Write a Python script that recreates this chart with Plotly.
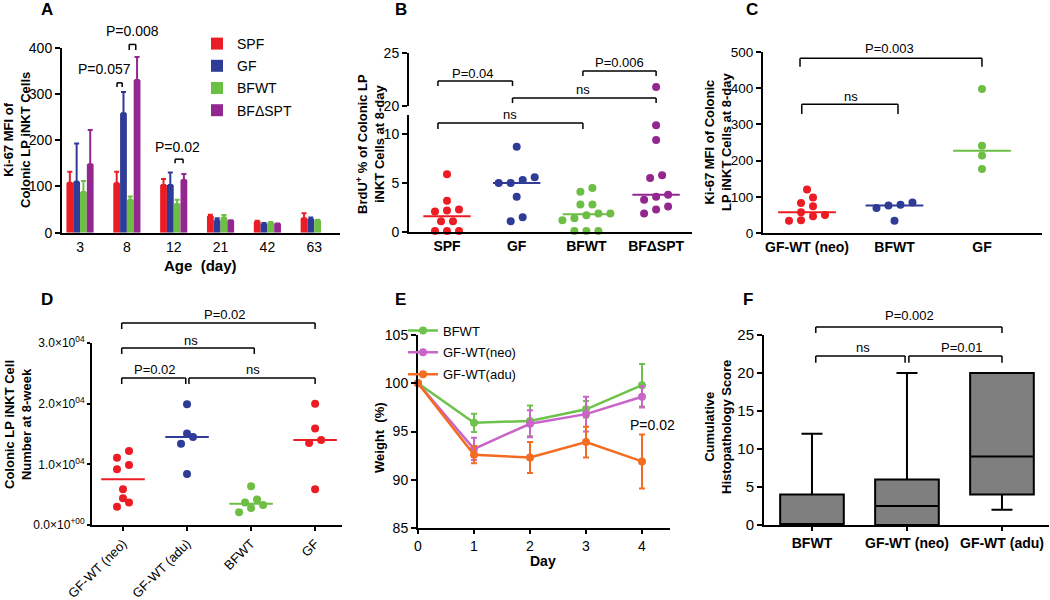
import numpy as np
import plotly.graph_objects as go

W, H = 1050, 600
FONT = "Arial, Liberation Sans, Helvetica, sans-serif"

RED = "#EC1C24"
BLUE = "#2E3B97"
GREEN = "#6DBE45"
PURPLE = "#93278F"
E_GREEN = "#6CC24A"
E_PINK = "#C964C8"
E_ORANGE = "#F36C21"
BOXGRAY = "#7F7F7F"

# ---------------- Panel A data ----------------
a_ages = ["3", "8", "12", "21", "42", "63"]
a_names = ["SPF", "GF", "BFWT", "BFΔSPT"]
a_spf = [108, 107, 103, 36, 24, 31]
a_spf_err = [24, 25, 13, 3, 2, 11]
a_gf = [110, 258, 103, 27, 20, 30]
a_gf_err = [83, 46, 27, 4, 1, 3]
a_bfwt = [88, 71, 62, 33, 22, 27]
a_bfwt_err = [24, 7, 9, 5, 1, 1]
a_bfdspt = [148, 330, 114, 27, 20, None]
a_bfdspt_err = [74, 50, 13, 0, 0, None]

# ---------------- Panel B data ----------------
b_groups = ["SPF", "GF", "BFWT", "BFΔSPT"]
b_spf = [5.9, 3.2, 2.1, 2.2, 2.3, 1.1, 1.1, 0.1, 0.1, 0.1]
b_gf = [8.7, 5.3, 5.6, 5.0, 5.0, 3.6, 1.1, 1.5]
b_bfwt = [4.5, 4.1, 2.8, 2.8, 1.9, 1.9, 1.7, 1.4, 1.2, 0.1, 0.1, 0.1]
b_bfdspt = [21.8, 10.9, 9.4, 5.8, 5.5, 3.8, 3.6, 3.3, 2.6, 2.3, 1.9]

# ---------------- Panel C data ----------------
c_groups = ["GF-WT (neo)", "BFWT", "GF"]
c_neo = [120, 83, 98, 74, 57, 50, 46, 35, 34]
c_bfwt = [84, 76, 69, 78, 34]
c_gf = [398, 241, 214, 177]

# ---------------- Panel D data ----------------
d_groups = ["GF-WT (neo)", "GF-WT (adu)", "BFWT", "GF"]
d_neo = [12200, 11100, 9200, 9900, 5900, 4400, 3700, 3000]
d_adu = [19900, 14500, 15100, 13400, 8400]
d_bfwt = [6400, 4200, 3700, 3300, 2800, 2100]
d_gf = [20000, 15900, 14000, 13500, 5900]
d_ticks = [0, 10000, 20000, 30000]
d_ticktext = ["0.0×10<sup>+00</sup>", "1.0×10<sup>04</sup>", "2.0×10<sup>04</sup>", "3.0×10<sup>04</sup>"]

# ---------------- Panel E data ----------------
e_days = [0, 1, 2, 3, 4]
e_bfwt = [100, 95.9, 96.1, 97.3, 99.8]
e_bfwt_err = [0, 0.95, 1.6, 0.85, 2.2]
e_neo = [100, 93.2, 95.8, 96.8, 98.6]
e_neo_err = [0, 1.15, 1.4, 1.8, 1.1]
e_adu = [100, 92.6, 92.3, 93.9, 91.9]
e_adu_err = [0, 0.9, 1.6, 1.6, 2.8]

# ---------------- Panel F data ----------------
f_groups = ["BFWT", "GF-WT (neo)", "GF-WT (adu)"]
f_min = [0, 0, 2]
f_q1 = [0, 0, 4]
f_med = [0, 2.5, 9]
f_q3 = [4, 6, 20]
f_max = [12, 20, 20]


def fx(p):
    return p / W


def fy(p):
    return 1 - p / H


# panel geometry (pixel boxes of the plotting areas) and ranges
G = {
    "A": dict(xa="x", ya="y", left=62, right=340, top=47.7, bottom=232.7, xr=[-0.385, 5.55], yr=[0, 400]),
    "B": dict(xa="x2", ya="y2", left=409, right=692, top=115, bottom=232, xr=[-0.545, 3.515], yr=[0, 11.94]),
    "B2": dict(xa="x2", ya="y3", left=409, right=692, top=53, bottom=106, xr=[-0.545, 3.515], yr=[20, 25]),
    "C": dict(xa="x3", ya="y4", left=763, right=1042, top=52, bottom=233, xr=[-0.503, 2.686], yr=[0, 500]),
    "D": dict(xa="x4", ya="y5", left=92, right=342, top=343, bottom=525, xr=[-0.484, 3.42], yr=[0, 30000]),
    "E": dict(xa="x5", ya="y6", left=418, right=670, top=335, bottom=528, xr=[0, 4.5], yr=[85, 105]),
    "F": dict(xa="x6", ya="y7", left=764, right=1049, top=335, bottom=525, xr=[-0.505, 2.495], yr=[0, 25]),
}


def axkey(a):
    return ("xaxis" if a[0] == "x" else "yaxis") + a[1:]


def ppu(g):
    return ((g["right"] - g["left"]) / (g["xr"][1] - g["xr"][0]),
            (g["bottom"] - g["top"]) / (g["yr"][1] - g["yr"][0]))


def swarm(vals, g, diam=8.0, spacing=12.0):
    px_x, px_y = ppu(g)
    vals = np.asarray(vals, dtype=float)
    order = np.argsort(vals, kind="stable")
    rows = []
    for i in order:
        if rows and (vals[i] - vals[rows[-1][0]]) * px_y < diam:
            rows[-1].append(i)
        else:
            rows.append([i])
    offs = np.zeros(len(vals))
    for r in rows:
        n = len(r)
        for k, i in enumerate(r):
            offs[i] = (k - (n - 1) / 2) * spacing / px_x
    return offs


fig = go.Figure()

# ---------------- Panel A: grouped bars ----------------
a_idx = list(range(len(a_ages)))
for name, vals, errs, col in zip(a_names, [a_spf, a_gf, a_bfwt, a_bfdspt],
                                 [a_spf_err, a_gf_err, a_bfwt_err, a_bfdspt_err],
                                 [RED, BLUE, GREEN, PURPLE]):
    fig.add_trace(go.Bar(
        x=a_idx, y=vals, name=name, marker=dict(color=col, line=dict(width=0)),
        error_y=dict(type="data", symmetric=False, array=errs,
                     arrayminus=[0] * len(errs), color=col, thickness=2, width=2.5),
        xaxis="x", yaxis="y", legend="legend", legendgroup=name,
    ))

# ---------------- scatter helper ----------------
def dot_panel(groups_vals, colors, g, g_upper=None, half=0.35):
    for i, (vals, col) in enumerate(zip(groups_vals, colors)):
        offs = swarm(vals, g)
        vals = np.asarray(vals, dtype=float)
        xs = i + offs
        if g_upper is not None:
            lo = vals < g_upper["yr"][0]
        else:
            lo = np.ones(len(vals), dtype=bool)
        fig.add_trace(go.Scatter(
            x=xs[lo], y=vals[lo], mode="markers", marker=dict(color=col, size=8),
            xaxis=g["xa"], yaxis=g["ya"], showlegend=False, cliponaxis=False))
        if g_upper is not None and (~lo).any():
            fig.add_trace(go.Scatter(
                x=xs[~lo], y=vals[~lo], mode="markers", marker=dict(color=col, size=8),
                xaxis=g_upper["xa"], yaxis=g_upper["ya"], showlegend=False, cliponaxis=False))
        med = float(np.median(vals))
        fig.add_trace(go.Scatter(
            x=[i - half, i + half], y=[med, med], mode="lines", line=dict(color=col, width=2),
            xaxis=g["xa"], yaxis=g["ya"], showlegend=False, hoverinfo="skip"))


dot_panel([b_spf, b_gf, b_bfwt, b_bfdspt], [RED, BLUE, GREEN, PURPLE], G["B"], G["B2"], half=0.34)
dot_panel([c_neo, c_bfwt, c_gf], [RED, BLUE, GREEN], G["C"], half=0.33)
dot_panel([d_neo, d_adu, d_bfwt, d_gf], [RED, BLUE, GREEN, RED], G["D"], half=0.34)

# ---------------- Panel E: lines ----------------
for name, vals, errs, col in [("BFWT", e_bfwt, e_bfwt_err, E_GREEN),
                              ("GF-WT(neo)", e_neo, e_neo_err, E_PINK),
                              ("GF-WT(adu)", e_adu, e_adu_err, E_ORANGE)]:
    fig.add_trace(go.Scatter(
        x=e_days, y=vals, name=name, mode="lines+markers",
        line=dict(color=col, width=2.5), marker=dict(color=col, size=8),
        error_y=dict(type="data", array=errs, color=col, thickness=2, width=3),
        xaxis="x5", yaxis="y6", legend="legend2", legendgroup=name, cliponaxis=False))

# ---------------- Panel F: box plot ----------------
fig.add_trace(go.Box(
    x=list(range(len(f_groups))), q1=f_q1, median=f_med, q3=f_q3,
    lowerfence=f_min, upperfence=f_max, width=0.67, whiskerwidth=0.33,
    fillcolor=BOXGRAY, line=dict(color="black", width=2), boxpoints=False,
    xaxis="x6", yaxis="y7", showlegend=False))

# ---------------- axes ----------------
base = dict(showgrid=False, zeroline=False, showline=True, linecolor="black", linewidth=2,
            tickcolor="black", tickwidth=2, ticklen=5, ticks="outside", automargin=False,
            tickfont=dict(family=FONT, size=14, color="black"))

layout_axes = {}
for key, g in G.items():
    if key != "B2":
        layout_axes[axkey(g["xa"])] = dict(base, domain=[fx(g["left"]), fx(g["right"])],
                                           range=g["xr"], anchor=g["ya"])
    layout_axes[axkey(g["ya"])] = dict(base, domain=[fy(g["bottom"]), fy(g["top"])],
                                       range=g["yr"], anchor=g["xa"])


def bold(lst):
    return ["<b>%s</b>" % s for s in lst]


# A
layout_axes["xaxis"].update(tickvals=a_idx, ticktext=a_ages, ticks="")
layout_axes["yaxis"].update(tickvals=[0, 100, 200, 300, 400])
# B
layout_axes["xaxis2"].update(tickvals=list(range(4)), ticktext=bold(b_groups), ticks="")
layout_axes["yaxis2"].update(tickvals=[0, 5, 10])
layout_axes["yaxis3"].update(tickvals=[20, 25])
# C
layout_axes["xaxis3"].update(tickvals=list(range(3)), ticktext=bold(c_groups), ticks="")
layout_axes["yaxis4"].update(tickvals=[0, 100, 200, 300, 400, 500], tickfont=dict(family=FONT, size=13.5, color="black"))
# D
layout_axes["xaxis4"].update(tickvals=list(range(4)), ticktext=d_groups, tickangle=-45, ticklen=4,
                             tickfont=dict(family=FONT, size=13, color="black"))
layout_axes["yaxis5"].update(tickvals=d_ticks, ticktext=d_ticktext, ticklen=3,
                             tickfont=dict(family=FONT, size=12, color="black"))
# E
layout_axes["xaxis5"].update(tickvals=e_days, ticklen=4)
layout_axes["yaxis6"].update(tickvals=[85, 90, 95, 100, 105])
# F
layout_axes["xaxis6"].update(tickvals=list(range(3)), ticktext=bold(f_groups), ticklen=4)
layout_axes["yaxis7"].update(tickvals=[0, 5, 10, 15, 20, 25], tickfont=dict(family=FONT, size=15, color="black"))

# ---------------- annotations & brackets ----------------
annotations = []
shapes = []


def yfrac(g, v):
    return (v - g["yr"][0]) / (g["yr"][1] - g["yr"][0])


def bracket(g, x0, x1, y, drop, lw=1.5):
    common = dict(type="line", xref=g["xa"], yref=g["ya"] + " domain",
                  line=dict(color="black", width=lw), layer="above")
    top = yfrac(g, y)
    bot = yfrac(g, y - drop)
    shapes.extend([
        dict(common, x0=x0, x1=x0, y0=bot, y1=top),
        dict(common, x0=x0, x1=x1, y0=top, y1=top),
        dict(common, x0=x1, x1=x1, y0=top, y1=bot),
    ])


def label(g, x, y, text, size=13):
    annotations.append(dict(text=text, xref=g["xa"], yref=g["ya"] + " domain", x=x, y=yfrac(g, y),
                            showarrow=False, xanchor="center", yanchor="middle",
                            font=dict(family=FONT, size=size, color="black")))


# A
bracket(G["A"], 0.79, 0.90, 324, 9)
bracket(G["A"], 1.05, 1.19, 407, 12)
bracket(G["A"], 2.03, 2.20, 159, 9)
label(G["A"], 0.53, 354, "P=0.057", 14)
label(G["A"], 1.13, 437, "P=0.008", 14)
label(G["A"], 2.09, 185, "P=0.02", 14)
# B
bracket(G["B2"], -0.13, 0.94, 22.36, 0.47)
bracket(G["B2"], 0.94, 3.0, 20.75, 0.47)
bracket(G["B2"], 1.95, 3.0, 23.3, 0.47)
bracket(G["B"], -0.13, 1.95, 11.12, 0.6)
label(G["B2"], 0.37, 23.1, "P=0.04")
label(G["B2"], 1.95, 21.6, "ns")
label(G["B2"], 2.47, 24.06, "P=0.006")
label(G["B"], 0.91, 11.94, "ns")
# C
bracket(G["C"], -0.08, 2.0, 483, 24)
bracket(G["C"], -0.06, 1.04, 356, 27)
label(G["C"], 0.94, 511, "P=0.003")
label(G["C"], 0.5, 378, "ns")
# D
bracket(G["D"], -0.02, 3.0, 33300, 1000)
bracket(G["D"], -0.02, 2.05, 29170, 980)
bracket(G["D"], -0.02, 0.98, 24230, 990)
bracket(G["D"], 1.03, 3.0, 24230, 990)
label(G["D"], 1.59, 34780, "P=0.02")
label(G["D"], 1.06, 30490, "ns")
label(G["D"], 0.5, 25710, "P=0.02")
label(G["D"], 2.03, 25710, "ns")
# E
label(G["E"], 4.18, 95.67, "P=0.02", 14)
# F
bracket(G["F"], 0.04, 2.0, 26.05, 0.8)
bracket(G["F"], 0.04, 0.98, 22.24, 0.9)
bracket(G["F"], 1.02, 2.0, 22.24, 0.9)
label(G["F"], 1.03, 27.6, "P=0.002")
label(G["F"], 0.54, 23.3, "ns")
label(G["F"], 1.58, 23.3, "P=0.01")


def paper_text(text, x, y, size, angle=0, bold_=True):
    annotations.append(dict(text=("<b>%s</b>" % text) if bold_ else text, xref="paper", yref="paper",
                            x=fx(x), y=fy(y), showarrow=False, xanchor="center", yanchor="middle",
                            textangle=angle, font=dict(family=FONT, size=size, color="black")))


for letter, x, y in [("A", 47, 9), ("B", 401, 9), ("C", 752, 9),
                     ("D", 47, 299), ("E", 400, 299), ("F", 748, 299)]:
    paper_text(letter, x, y, 17)

paper_text("Ki-67 MFI of<br>Colonic LP iNKT Cells", 17, 140, 13, -90)
paper_text("BrdU<sup>+</sup> % of Colonic LP<br>iNKT Cells at 8-day", 370, 144, 13, -90)
paper_text("Ki-67 MFI of Colonic<br>LP iNKT Cells at 8-day", 718, 142, 13, -90)
paper_text("Colonic LP iNKT Cell<br>Number at 8-week", 18, 425, 13, -90)
paper_text("Weight \u00a0(%)", 379, 438, 13, -90)
paper_text("Cumulative<br>Histopathology Score", 718, 427, 13, -90)
paper_text("Age \u00a0(day)", 200, 265, 15)
paper_text("Day", 543, 561, 14)

fig.update_layout(
    width=W, height=H, margin=dict(l=0, r=0, t=0, b=0, autoexpand=False),
    paper_bgcolor="white", plot_bgcolor="white",
    font=dict(family=FONT, color="black"),
    barmode="group", bargap=0.42, bargroupgap=0,
    annotations=annotations, shapes=shapes,
    legend=dict(x=fx(197), y=fy(28), xanchor="left", yanchor="top", bgcolor="rgba(0,0,0,0)",
                font=dict(family=FONT, size=14, color="black"), tracegroupgap=1, itemwidth=30),
    legend2=dict(x=fx(403), y=fy(315.5), xanchor="left", yanchor="top", bgcolor="rgba(0,0,0,0)",
                 font=dict(family=FONT, size=13, color="black"), tracegroupgap=2, itemwidth=30),
    **layout_axes,
)

fig.write_html("out.html", config={"displayModeBar": False},
               post_script="document.body.style.margin='0px';document.body.style.overflow='hidden';")
